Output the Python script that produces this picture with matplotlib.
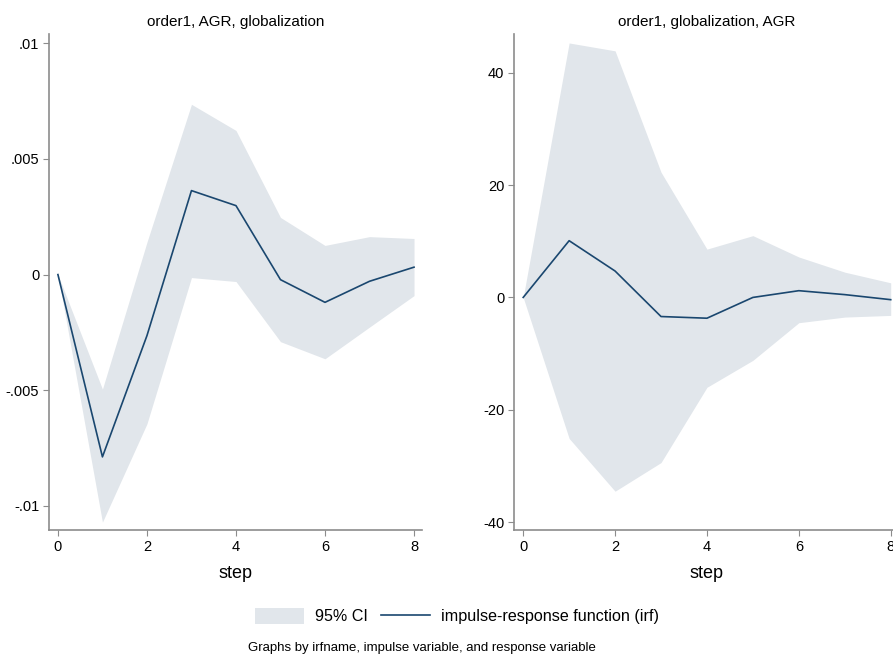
"""Impulse-response functions (Stata irf graph style), two panels."""
import matplotlib
matplotlib.use("Agg")
import matplotlib.pyplot as plt
from matplotlib.patches import Patch
from matplotlib.lines import Line2D

plt.rcParams["font.family"] = ["Liberation Sans", "DejaVu Sans"]

STEPS = [0, 1, 2, 3, 4, 5, 6, 7, 8]

# order1, AGR, globalization
IRF_L = [0.0, -0.00788, -0.00264, 0.00363, 0.00298, -0.00022, -0.00120, -0.00029, 0.00032]
UP_L = [0.0, -0.00495, 0.00140, 0.00736, 0.00623, 0.00247, 0.00126, 0.00164, 0.00156]
LO_L = [0.0, -0.01070, -0.00645, -0.00013, -0.00030, -0.00290, -0.00364, -0.00227, -0.00091]

# order1, globalization, AGR
IRF_R = [0.0, 10.1, 4.7, -3.4, -3.7, 0.0, 1.2, 0.5, -0.4]
UP_R = [0.0, 45.3, 43.9, 22.3, 8.6, 11.0, 7.2, 4.5, 2.6]
LO_R = [0.0, -25.1, -34.5, -29.4, -16.0, -11.2, -4.5, -3.5, -3.2]

TITLES = ["order1, AGR, globalization", "order1, globalization, AGR"]
YTICKS_L = [-0.01, -0.005, 0, 0.005, 0.01]
YLABELS_L = ["-.01", "-.005", "0", ".005", ".01"]
YTICKS_R = [-40, -20, 0, 20, 40]
XTICKS = [0, 2, 4, 6, 8]

CI_COLOR = "#e1e6eb"
LINE_COLOR = "#1a476f"
AXIS_COLOR = "#8c8c8c"


def style_axes(ax):
    for s in ["top", "right"]:
        ax.spines[s].set_visible(False)
    for s in ["left", "bottom"]:
        ax.spines[s].set_color(AXIS_COLOR)
        ax.spines[s].set_linewidth(1.2)
    ax.tick_params(direction="out", length=4, width=0.8, color=AXIS_COLOR,
                   labelsize=10.5, labelcolor="black", pad=3)
    ax.set_xticks(XTICKS)
    ax.set_xlim(-0.2, 8.18)
    ax.set_xlabel("step", fontsize=13, labelpad=8)


fig = plt.figure(figsize=(8.93, 6.56), dpi=100)
axl = fig.add_axes([0.0549, 0.1921, 0.4177, 0.7561])
axr = fig.add_axes([0.5756, 0.1921, 0.4311, 0.7561])

axl.fill_between(STEPS, LO_L, UP_L, color=CI_COLOR, lw=0)
axl.plot(STEPS, IRF_L, color=LINE_COLOR, lw=1.2)
style_axes(axl)
axl.set_ylim(-0.01104, 0.0104)
axl.set_yticks(YTICKS_L, YLABELS_L)
axl.set_title(TITLES[0], fontsize=11, pad=6)

axr.fill_between(STEPS, LO_R, UP_R, color=CI_COLOR, lw=0)
axr.plot(STEPS, IRF_R, color=LINE_COLOR, lw=1.2)
style_axes(axr)
axr.set_ylim(-41.4, 46.9)
axr.set_yticks(YTICKS_R, [str(t) for t in YTICKS_R])
axr.set_title(TITLES[1], fontsize=11, pad=6)

handles = [Patch(facecolor=CI_COLOR, edgecolor="none"),
           Line2D([], [], color=LINE_COLOR, lw=1.2)]
fig.legend(handles, ["95% CI", "impulse-response function (irf)"],
           loc="center", bbox_to_anchor=(457 / 893, 1 - 616 / 656), ncol=2,
           frameon=False, fontsize=11.6, handlelength=3.0, handleheight=1.2,
           handletextpad=0.68, columnspacing=0.87)

fig.text(248 / 893, 1 - 648 / 656, "Graphs by irfname, impulse variable, and response variable",
         fontsize=9.5, ha="left", va="center")

fig.savefig("out.png", dpi=100)
